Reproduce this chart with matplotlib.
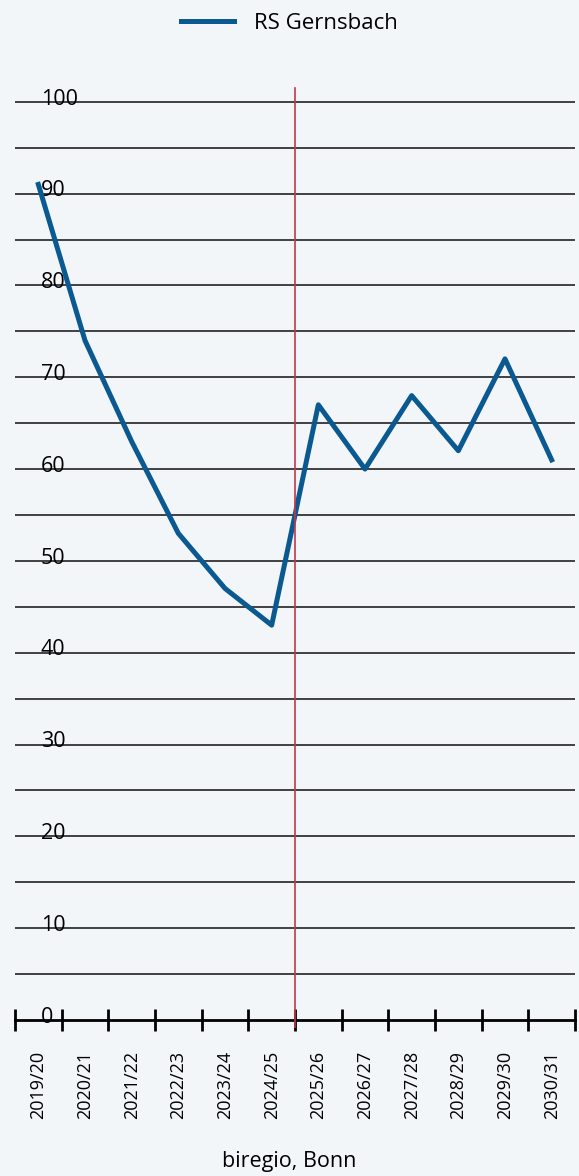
import matplotlib
matplotlib.use("Agg")
import matplotlib.pyplot as plt
import numpy as np

plt.rcParams["font.family"] = ["Open Sans", "DejaVu Sans"]

# ── Daten ─────────────────────────────────────────────────────────────────────
years = ["2019/20", "2020/21", "2021/22", "2022/23", "2023/24", "2024/25",
         "2025/26", "2026/27", "2027/28", "2028/29", "2029/30", "2030/31"]
values = [91, 74, 63, 53, 47, 43, 67, 60, 68, 62, 72, 61]
series_name = "RS Gernsbach"
source = "biregio, Bonn"
split_index = 6          # Prognose ab 2025/26

BG = "#f2f6f9"
LINE = "#0b5991"
RED = "#c0394b"

fig = plt.figure(figsize=(5.79, 11.76), dpi=100, facecolor=BG)
ax = fig.add_axes([15 / 579, 1 - 1020 / 1176, 560 / 579, (1020 - 88) / 1176])
ax.set_facecolor(BG)

x = np.arange(len(years)) + 0.5
ax.plot(x, values, color=LINE, linewidth=3.6, solid_joinstyle="round",
        label=series_name, zorder=4)

ax.set_xlim(0, len(years))
ax.set_ylim(0, 101.5)

# horizontal grid every 5
for yv in range(5, 101, 5):
    ax.axhline(yv, color="#333333", linewidth=1.3, zorder=1)

# y labels inside the plot
for yv in range(0, 101, 10):
    ax.text(0.55, yv + 0.3, str(yv), ha="left", va="center", fontsize=15.5,
            color="black", zorder=3)

# split line
ax.plot([split_index, split_index], [-0.8, 101.5], color=RED, linewidth=1.2,
        clip_on=False, zorder=5)

for s in ["top", "right", "left"]:
    ax.spines[s].set_visible(False)
ax.spines["bottom"].set_linewidth(2)
ax.set_yticks([])

ax.set_xticks(np.arange(len(years) + 1))
ax.set_xticklabels([])
ax.tick_params(axis="x", which="major", direction="inout", length=16, width=2)
ax.set_xticks(x, minor=True)
ax.set_xticklabels(years, minor=True, rotation=90, fontsize=13)
ax.tick_params(axis="x", which="minor", length=0, pad=22)

fig.legend(loc="upper center", bbox_to_anchor=(0.5, 1.006), frameon=False,
           fontsize=16, handlelength=2.4, handletextpad=0.9)

fig.text(0.5, 1 - 1162 / 1176, source, ha="center", va="center", fontsize=15.5)

fig.savefig("out.png", dpi=100, facecolor=BG)
